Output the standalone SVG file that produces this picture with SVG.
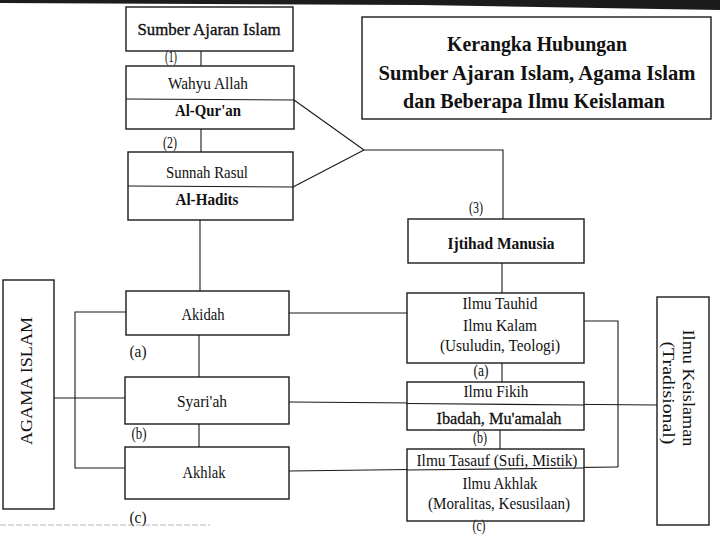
<svg xmlns="http://www.w3.org/2000/svg" width="720" height="540" viewBox="0 0 720 540">
<style>
.box{fill:#fff;stroke:#1a1a1a;stroke-width:1.4}
.ln{fill:none;stroke:#1a1a1a;stroke-width:1.1}
text{font-family:"Liberation Serif","Times New Roman",serif;fill:#111;font-size:17px}
.c{text-anchor:middle}
.b{font-weight:bold}
.t{font-size:21px;font-weight:bold;text-anchor:middle}
</style>
<rect x="0" y="0" width="720" height="540" fill="#fff"/>
<polygon points="0,0 720,0 720,10 420,5 0,3" fill="#1c1c1c"/>
<line x1="0" y1="525" x2="210" y2="525" stroke="#bbb" stroke-width="1" stroke-dasharray="6,2"/>

<g id="connectors">
<line class="ln" x1="201" y1="51" x2="201" y2="66"/>
<line class="ln" x1="201" y1="129" x2="201" y2="152"/>
<line class="ln" x1="294" y1="100" x2="364" y2="150"/>
<line class="ln" x1="293" y1="187" x2="364" y2="150"/>
<polyline class="ln" points="364,150 503,150 503,219"/>
<line class="ln" x1="200" y1="220" x2="200" y2="291"/>
<line class="ln" x1="502" y1="263" x2="502" y2="293"/>
<line class="ln" x1="199" y1="335" x2="199" y2="377"/>
<line class="ln" x1="199" y1="424" x2="199" y2="447"/>
<line class="ln" x1="502" y1="363" x2="502" y2="382"/>
<line class="ln" x1="500" y1="430" x2="500" y2="449"/>
<polyline class="ln" points="126,312 75,312 75,468 125,468"/>
<line class="ln" x1="54" y1="398" x2="125" y2="398"/>
<line class="ln" x1="289" y1="313" x2="407" y2="313"/>
<polyline class="ln" points="584,321 618,321 618,467"/>
<line class="ln" x1="289" y1="402" x2="657" y2="405"/>
<line class="ln" x1="289" y1="471" x2="618" y2="467"/>
</g>

<g id="title">
<rect class="box" x="362" y="17" width="349" height="102"/>
<text class="t" x="537" y="51" textLength="180" lengthAdjust="spacingAndGlyphs">Kerangka Hubungan</text>
<text class="t" x="537" y="80" textLength="317" lengthAdjust="spacingAndGlyphs">Sumber Ajaran Islam, Agama Islam</text>
<text class="t" x="534" y="108" textLength="262" lengthAdjust="spacingAndGlyphs">dan Beberapa Ilmu Keislaman</text>
</g>

<g id="sumber">
<rect class="box" x="126" y="7" width="167" height="44"/>
<text class="c" x="209" y="35" textLength="143" lengthAdjust="spacingAndGlyphs" stroke="#111" stroke-width="0.35">Sumber Ajaran Islam</text>
</g>
<text class="c" x="171" y="62" font-size="15" textLength="12" lengthAdjust="spacingAndGlyphs">(1)</text>

<g id="wahyu">
<rect class="box" x="126" y="66" width="168" height="63"/>
<line class="ln" x1="126" y1="99" x2="294" y2="100"/>
<text class="c" x="208" y="89" textLength="80" lengthAdjust="spacingAndGlyphs">Wahyu Allah</text>
<text class="c b" x="208" y="116" textLength="66" lengthAdjust="spacingAndGlyphs">Al-Qur'an</text>
</g>
<text class="c" x="170" y="148" font-size="15" textLength="14" lengthAdjust="spacingAndGlyphs">(2)</text>

<g id="sunnah">
<rect class="box" x="128" y="152" width="165" height="68"/>
<line class="ln" x1="128" y1="186" x2="293" y2="187"/>
<text class="c" x="207" y="178" textLength="82" lengthAdjust="spacingAndGlyphs">Sunnah Rasul</text>
<text class="c b" x="207" y="205" textLength="63" lengthAdjust="spacingAndGlyphs">Al-Hadits</text>
</g>

<text class="c" x="476" y="213" font-size="15" textLength="14" lengthAdjust="spacingAndGlyphs">(3)</text>
<g id="ijtihad">
<rect class="box" x="408" y="219" width="176" height="44"/>
<text class="c b" x="501" y="249" textLength="107" lengthAdjust="spacingAndGlyphs">Ijtihad Manusia</text>
</g>

<g id="agama">
<rect class="box" x="3" y="280" width="51" height="229"/>
<text class="c" transform="translate(31.5,381) rotate(-90)" textLength="128" lengthAdjust="spacingAndGlyphs">AGAMA ISLAM</text>
</g>

<g id="akidah">
<rect class="box" x="126" y="291" width="163" height="44"/>
<text class="c" x="203" y="320" textLength="43" lengthAdjust="spacingAndGlyphs">Akidah</text>
</g>
<text class="c" x="138" y="357" font-size="16" textLength="17" lengthAdjust="spacingAndGlyphs">(a)</text>

<g id="syariah">
<rect class="box" x="125" y="377" width="164" height="47"/>
<text class="c" x="202" y="407" textLength="50" lengthAdjust="spacingAndGlyphs">Syari'ah</text>
</g>
<text class="c" x="139" y="439" font-size="16" textLength="15" lengthAdjust="spacingAndGlyphs">(b)</text>

<g id="akhlak">
<rect class="box" x="125" y="447" width="164" height="52"/>
<text class="c" x="204" y="478" textLength="43" lengthAdjust="spacingAndGlyphs">Akhlak</text>
</g>
<text class="c" x="138" y="523" font-size="16" textLength="17" lengthAdjust="spacingAndGlyphs">(c)</text>

<g id="tauhid">
<rect class="box" x="407" y="293" width="177" height="70"/>
<text class="c" x="500" y="309" textLength="75" lengthAdjust="spacingAndGlyphs">Ilmu Tauhid</text>
<text class="c" x="500" y="331" textLength="74" lengthAdjust="spacingAndGlyphs">Ilmu Kalam</text>
<text class="c" x="500" y="351" textLength="120" lengthAdjust="spacingAndGlyphs">(Usuludin, Teologi)</text>
</g>
<text class="c" x="481" y="376" font-size="16" textLength="15" lengthAdjust="spacingAndGlyphs">(a)</text>

<g id="fikih">
<rect class="box" x="407" y="382" width="177" height="48"/>
<line class="ln" x1="407" y1="403.5" x2="584" y2="405"/>
<text class="c" x="496" y="397" textLength="65" lengthAdjust="spacingAndGlyphs">Ilmu Fikih</text>
<text class="c" x="499" y="424" textLength="125" lengthAdjust="spacingAndGlyphs" stroke="#111" stroke-width="0.3">Ibadah, Mu'amalah</text>
</g>
<text class="c" x="480" y="443" font-size="16" textLength="14" lengthAdjust="spacingAndGlyphs">(b)</text>

<g id="tasauf">
<rect class="box" x="407" y="449" width="177" height="72"/>
<line class="ln" x1="407" y1="470" x2="584" y2="468"/>
<text class="c" x="497" y="466" textLength="161" lengthAdjust="spacingAndGlyphs">Ilmu Tasauf (Sufi, Mistik)</text>
<text class="c" x="500" y="489" textLength="75" lengthAdjust="spacingAndGlyphs">Ilmu Akhlak</text>
<text class="c" x="499" y="509" textLength="142" lengthAdjust="spacingAndGlyphs">(Moralitas, Kesusilaan)</text>
</g>
<text class="c" x="479" y="531" font-size="16" textLength="13" lengthAdjust="spacingAndGlyphs">(c)</text>

<g id="keislaman">
<rect class="box" x="657" y="297" width="52" height="228"/>
<text class="c" transform="translate(682.5,388) rotate(90)" textLength="117" lengthAdjust="spacingAndGlyphs">Ilmu Keislaman</text>
<text class="c" transform="translate(662.5,393) rotate(90)" textLength="103" lengthAdjust="spacingAndGlyphs">(Tradisional)</text>
</g>
</svg>
